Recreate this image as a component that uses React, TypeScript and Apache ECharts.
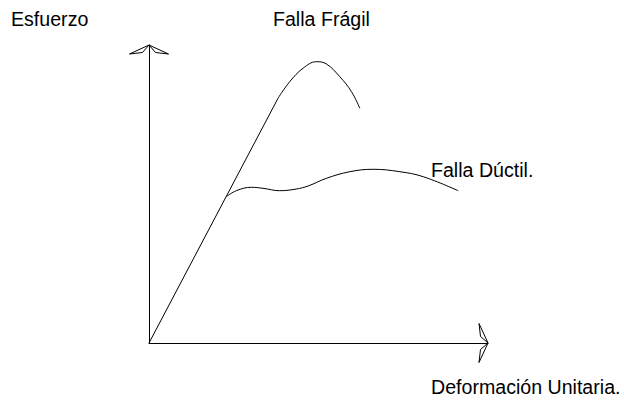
import React, { useEffect, useRef } from "react";
import * as echarts from "echarts";

// Axis extents (strain, stress in arbitrary units)
const xMax = 338.5;
const yMax = 298;

// Elastic (linear) part shared by both curves
const elastic: number[][] = [
  [0, 0],
  [128.8, 244.7],
];

// Brittle failure curve
const fragil: number[][] = [
  [128.8, 244.7],
  [140.5, 261.3],
  [153.8, 274.7],
  [167.2, 281.3],
  [177.2, 279],
  [190.5, 266.3],
  [202.2, 251.3],
  [210.5, 234.7],
];

// Ductile failure curve
const ductil: number[][] = [
  [77.2, 146.3],
  [87.2, 152.3],
  [102.2, 155.7],
  [113.8, 154.7],
  [130.5, 152.3],
  [147.2, 154],
  [158.8, 157],
  [177.2, 164.7],
  [200.5, 171.3],
  [223.8, 173.7],
  [250.5, 171.3],
  [273.8, 166.3],
  [308.8, 152.3],
];

const labels = {
  y: "Esfuerzo",
  x: "Deformación Unitaria.",
  fragil: "Falla Frágil",
  ductil: "Falla Dúctil.",
};

const FONT = "'Liberation Sans', Arial, sans-serif";
const FS = 19.6;

export default function App() {
  const ref = useRef<HTMLDivElement>(null);
  useEffect(() => {
    if (!ref.current) return;
    const chart = echarts.init(ref.current, undefined, { renderer: "svg" });
    const lineStyle = { color: "#000", width: 1 };
    chart.setOption({
      animation: false,
      backgroundColor: "#fff",
      grid: { left: 149, top: 45, width: 339, height: 298 },
      xAxis: {
        type: "value",
        min: 0,
        max: xMax,
        axisLine: { show: true, lineStyle: { color: "#000", width: 1 } },
        axisTick: { show: false },
        axisLabel: { show: false },
        splitLine: { show: false },
      },
      yAxis: {
        type: "value",
        min: 0,
        max: yMax,
        axisLine: { show: true, lineStyle: { color: "#000", width: 1 } },
        axisTick: { show: false },
        axisLabel: { show: false },
        splitLine: { show: false },
      },
      series: [
        {
          type: "line",
          data: elastic,
          showSymbol: false,
          lineStyle,
          smooth: false,
        },
        {
          type: "line",
          data: fragil,
          showSymbol: false,
          lineStyle,
          smooth: 0.4,
        },
        {
          type: "line",
          data: ductil,
          showSymbol: false,
          lineStyle,
          smooth: 0.4,
        },
      ],
    });

    const [xe, xy] = chart.convertToPixel({ gridIndex: 0 }, [xMax, 0]) as number[];
    const [yx, ye] = chart.convertToPixel({ gridIndex: 0 }, [0, yMax]) as number[];
    const wing = (pts: number[][]) => ({
      type: "polygon",
      shape: { points: pts },
      style: { fill: "#fff", stroke: "#000", lineWidth: 1 },
      z: 10,
    });
    const text = (s: string, x: number, y: number) => ({
      type: "text",
      x,
      y,
      style: {
        text: s,
        fill: "#000",
        font: `${FS}px ${FONT}`,
        textAlign: "left",
        textVerticalAlign: "middle",
      },
      z: 10,
    });
    chart.setOption({
      graphic: [
        wing([[yx, ye], [yx - 19.5, ye + 9], [yx - 6.5, ye + 7.5]]),
        wing([[yx, ye], [yx + 19.5, ye + 9], [yx + 6.5, ye + 7.5]]),
        wing([[xe, xy], [xe - 9, xy - 19.5], [xe - 7.5, xy - 6.5]]),
        wing([[xe, xy], [xe - 9, xy + 19.5], [xe - 7.5, xy + 6.5]]),
        text(labels.y, 11, 19),
        text(labels.fragil, 273, 19),
        text(labels.ductil, 431, 170),
        text(labels.x, 431, 387),
      ],
    });
    return () => chart.dispose();
  }, []);
  return (
    <div
      ref={ref}
      style={{ position: "fixed", left: 0, top: 0, width: 624, height: 402 }}
    />
  );
}
